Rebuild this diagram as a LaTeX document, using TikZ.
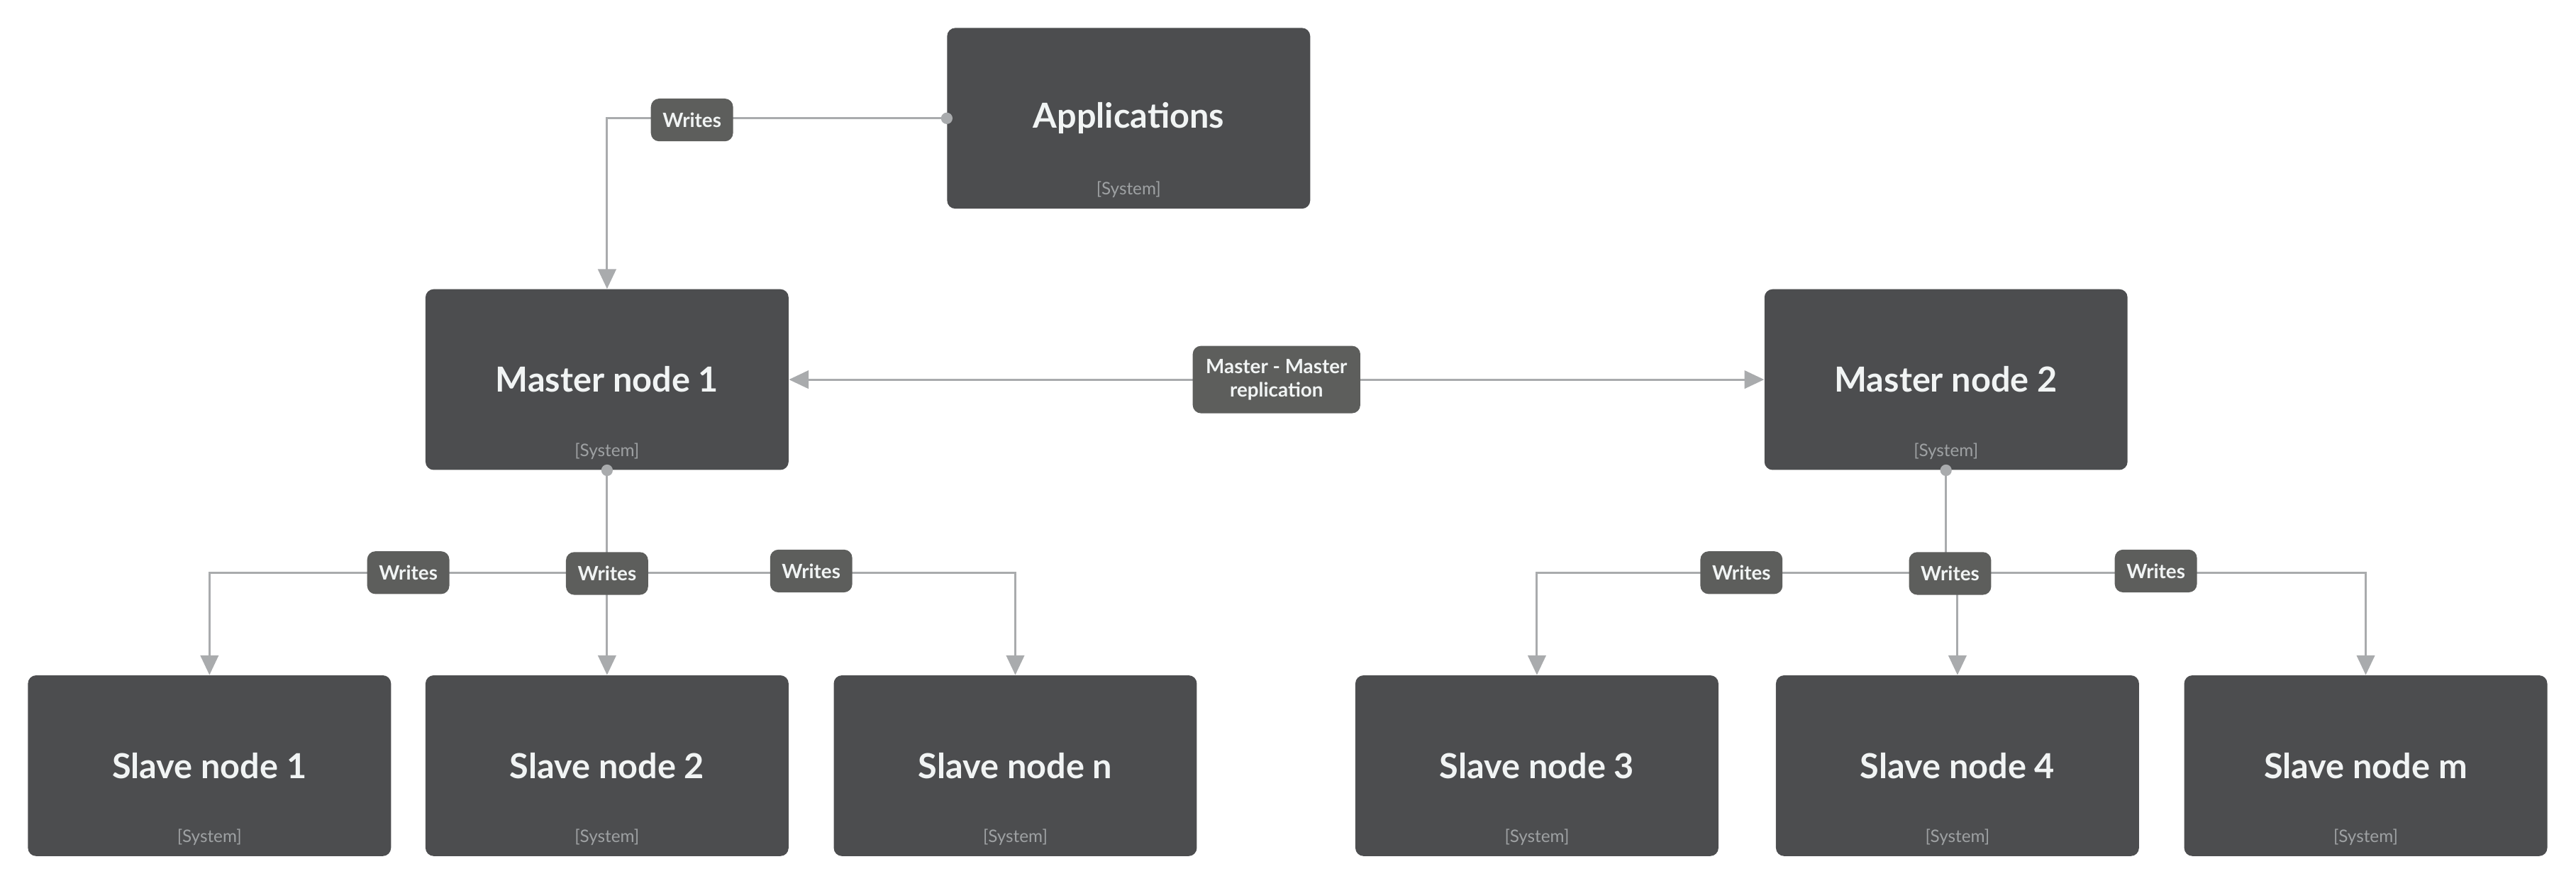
\documentclass[tikz,border=0pt]{standalone}
\usepackage{fontspec}
\setmainfont{Lato}
\usetikzlibrary{arrows.meta}

\definecolor{boxgray}{RGB}{76,77,79}
\definecolor{taggray}{RGB}{93,94,92}
\definecolor{linegray}{RGB}{169,171,173}
\definecolor{titlewhite}{RGB}{241,244,244}
\definecolor{systemgray}{RGB}{158,161,163}

\begin{document}
\begin{tikzpicture}[x=1pt, y=-1pt,
            system/.style={rectangle, rounded corners=5pt, fill=boxgray, minimum width=221pt, minimum height=110pt,
                text=titlewhite, font=\bfseries\fontsize{21}{25}\selectfont, label={[system tag]south:{[System]}}},
            system tag/.style={anchor=base, yshift=8.5pt, text=systemgray, font=\fontsize{10.5}{12}\selectfont},
            writes/.style={rectangle, rounded corners=5pt, fill=taggray, minimum width=50pt, minimum height=26pt,
                inner sep=2pt, text=titlewhite, font=\bfseries\fontsize{12}{14}\selectfont, align=center},
            link/.style={draw=linegray, line width=1.3pt},
            arrow/.style={link, -{Triangle[length=12pt, width=11pt]}},
            both arrow/.style={link, {Triangle[length=12pt, width=11pt]}-{Triangle[length=12pt, width=11pt]}}
    ]
        \useasboundingbox (0,0) rectangle (1568,539);

        % Top
        \node[system] (apps) at (687,72) {Applications};

        % Masters
        \node[system] (master1) at (369.5,231) {Master node 1};
        \node[system] (master2) at (1184.5,231) {Master node 2};

        % Slaves
        \node[system] (slave1) at (127.5,466) {Slave node 1};
        \node[system] (slave2) at (369.5,466) {Slave node 2};
        \node[system] (slaven) at (618,466) {Slave node n};
        \node[system] (slave3) at (935.5,466) {Slave node 3};
        \node[system] (slave4) at (1191.5,466) {Slave node 4};
        \node[system] (slavem) at (1440,466) {Slave node m};

        % Junctions
        \coordinate (fork1) at (369.5,348.5);
        \coordinate (fork2) at (1184.5,348.5);

        % Arrows
        \draw[arrow] (apps.west) -| (master1.north) node[writes, pos=0.375, yshift=-1pt] {Writes};
        \draw[both arrow] (master1.east) -- (master2.west) node[writes, midway, minimum width=102pt, minimum height=41pt] {Master - Master\\replication};

        \draw[arrow] (master1.south) -- (slave2.north);
        \draw[arrow] (fork1) -| (slave1.north) node[writes, pos=0.25] {Writes};
        \draw[arrow] (fork1) -| (slaven.north) node[writes, pos=0.25, yshift=1pt] {Writes};
        \node[writes] (w_slave2) at (369.5,349) {Writes};

        \draw[arrow] (master2.south) -- (fork2) -| (slave4.north);
        \draw[arrow] (fork2) -| (slave3.north) node[writes, pos=0.25] {Writes};
        \draw[arrow] (fork2) -| (slavem.north) node[writes, pos=0.25, yshift=1pt] {Writes};
        \node[writes] (w_slave4) at (1187,349) {Writes};

        % Start dots
        \fill[linegray] (apps.west) circle (3.5pt);
        \fill[linegray] (master1.south) circle (3.5pt);
        \fill[linegray] (master2.south) circle (3.5pt);

    \end{tikzpicture}
\end{document}
